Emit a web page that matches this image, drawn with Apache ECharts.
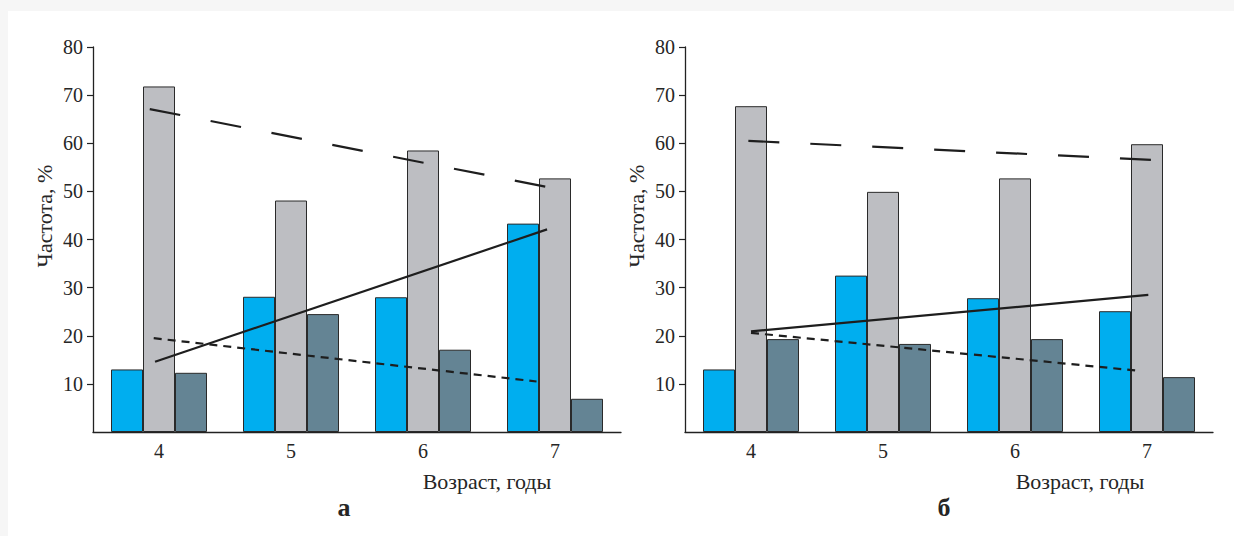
<!DOCTYPE html>
<html>
<head>
<meta charset="utf-8">
<script src="https://cdn.jsdelivr.net/npm/echarts@6/dist/echarts.min.js"></script>
<style>
html,body{margin:0;padding:0;background:#fff;}
#c{width:1234px;height:536px;}
</style>
</head>
<body>
<div id="c"></div>
<script>
// ---- data ----
const categories = ['4', '5', '6', '7'];
const yTicks = [10, 20, 30, 40, 50, 60, 70, 80];

// panel a
const aBlue = [13.0, 28.1, 28.0, 43.3];
const aGrey = [71.8, 48.1, 58.5, 52.7];
const aDark = [12.3, 24.5, 17.1, 6.9];
const aTrendLong = [[3.93, 67.1], [6.98, 50.7]];
const aTrendSolid = [[3.97, 14.6], [6.94, 42.1]];
const aTrendShort = [[3.96, 19.5], [6.86, 10.5]];

// panel б
const bBlue = [13.0, 32.5, 27.8, 25.1];
const bGrey = [67.7, 49.9, 52.7, 59.8];
const bDark = [19.3, 18.3, 19.3, 11.4];
const bTrendLong = [[3.98, 60.5], [7.07, 56.5]];
const bTrendSolid = [[4.00, 20.9], [7.01, 28.5]];
const bTrendShort = [[4.00, 20.6], [6.91, 12.8]];

const yName = 'Частота, %';
const xName = 'Возраст, годы';
const panelLetters = ['а', 'б'];

// ---- styles ----
const COLORS = {blue: '#00aeef', grey: '#bdbec2', dark: '#648494'};
const serif = 'Liberation Serif';

const chart = echarts.init(document.getElementById('c'), null, {renderer: 'svg'});

const grids = [
  {left: 93, top: 47, width: 528, height: 385},
  {left: 685, top: 47, width: 528, height: 385}
];

function catAxis(gi) {
  return {
    type: 'category', gridIndex: gi, data: categories,
    axisLine: {show: true, lineStyle: {color: '#222', width: 1.3}},
    axisTick: {show: false},
    axisLabel: {color: '#262626', fontFamily: serif, fontSize: 20, margin: 9}
  };
}
function valXAxis(gi) {
  return {type: 'value', gridIndex: gi, min: 3.5, max: 7.5, show: false};
}
function yAxis(gi) {
  return {
    type: 'value', gridIndex: gi, min: 0, max: 80, interval: 10,
    axisLine: {show: true, lineStyle: {color: '#222', width: 1.3}},
    axisTick: {show: true, length: 6, customValues: yTicks, lineStyle: {color: '#222', width: 1.2}},
    axisLabel: {color: '#262626', fontFamily: serif, fontSize: 20, margin: 10,
      customValues: yTicks},
    splitLine: {show: false}
  };
}

function bars(gi, vals, color) {
  return {
    type: 'bar', xAxisIndex: gi, yAxisIndex: gi, data: vals,
    barWidth: 32, barGap: '0%', silent: true,
    itemStyle: {color: color, borderColor: '#2a2a2a', borderWidth: 1}
  };
}
function trend(gi, pts, type) {
  return {
    type: 'line', xAxisIndex: gi + 2, yAxisIndex: gi, data: pts,
    symbol: 'none', silent: true, z: 5,
    lineStyle: {color: '#1e1e1e', width: 2.2, type: type}
  };
}
function txt(x, y, text, size, rot, weight) {
  return {
    type: 'text', x: x, y: y, rotation: rot || 0,
    style: {text: text, fontFamily: serif, fontSize: size, fontWeight: weight || 'normal',
      fill: '#262626', textAlign: 'center', textVerticalAlign: 'middle'}
  };
}

const option = {
  backgroundColor: '#fff',
  animation: false,
  grid: grids,
  xAxis: [catAxis(0), catAxis(1), valXAxis(0), valXAxis(1)],
  yAxis: [yAxis(0), yAxis(1)],
  series: [
    bars(0, aBlue, COLORS.blue), bars(0, aGrey, COLORS.grey), bars(0, aDark, COLORS.dark),
    bars(1, bBlue, COLORS.blue), bars(1, bGrey, COLORS.grey), bars(1, bDark, COLORS.dark),
    trend(0, aTrendLong, [31, 31]), trend(0, aTrendSolid, 'solid'), trend(0, aTrendShort, [8, 6]),
    trend(1, bTrendLong, [31, 31]), trend(1, bTrendSolid, 'solid'), trend(1, bTrendShort, [8, 6])
  ],
  graphic: [
    {type: 'rect', left: 0, top: 0, z: -10, shape: {width: 1234, height: 11}, style: {fill: '#f6f6f6'}},
    {type: 'rect', left: 0, top: 0, z: -10, shape: {width: 8, height: 536}, style: {fill: '#f6f6f6'}},
    txt(44, 216, yName, 22, Math.PI / 2),
    txt(636, 216, yName, 22, Math.PI / 2),
    txt(487, 481, xName, 22),
    txt(1080, 481, xName, 22),
    txt(344, 507, panelLetters[0], 26, 0, 'bold'),
    txt(944, 507, panelLetters[1], 26, 0, 'bold')
  ]
};
chart.setOption(option);
</script>
</body>
</html>
